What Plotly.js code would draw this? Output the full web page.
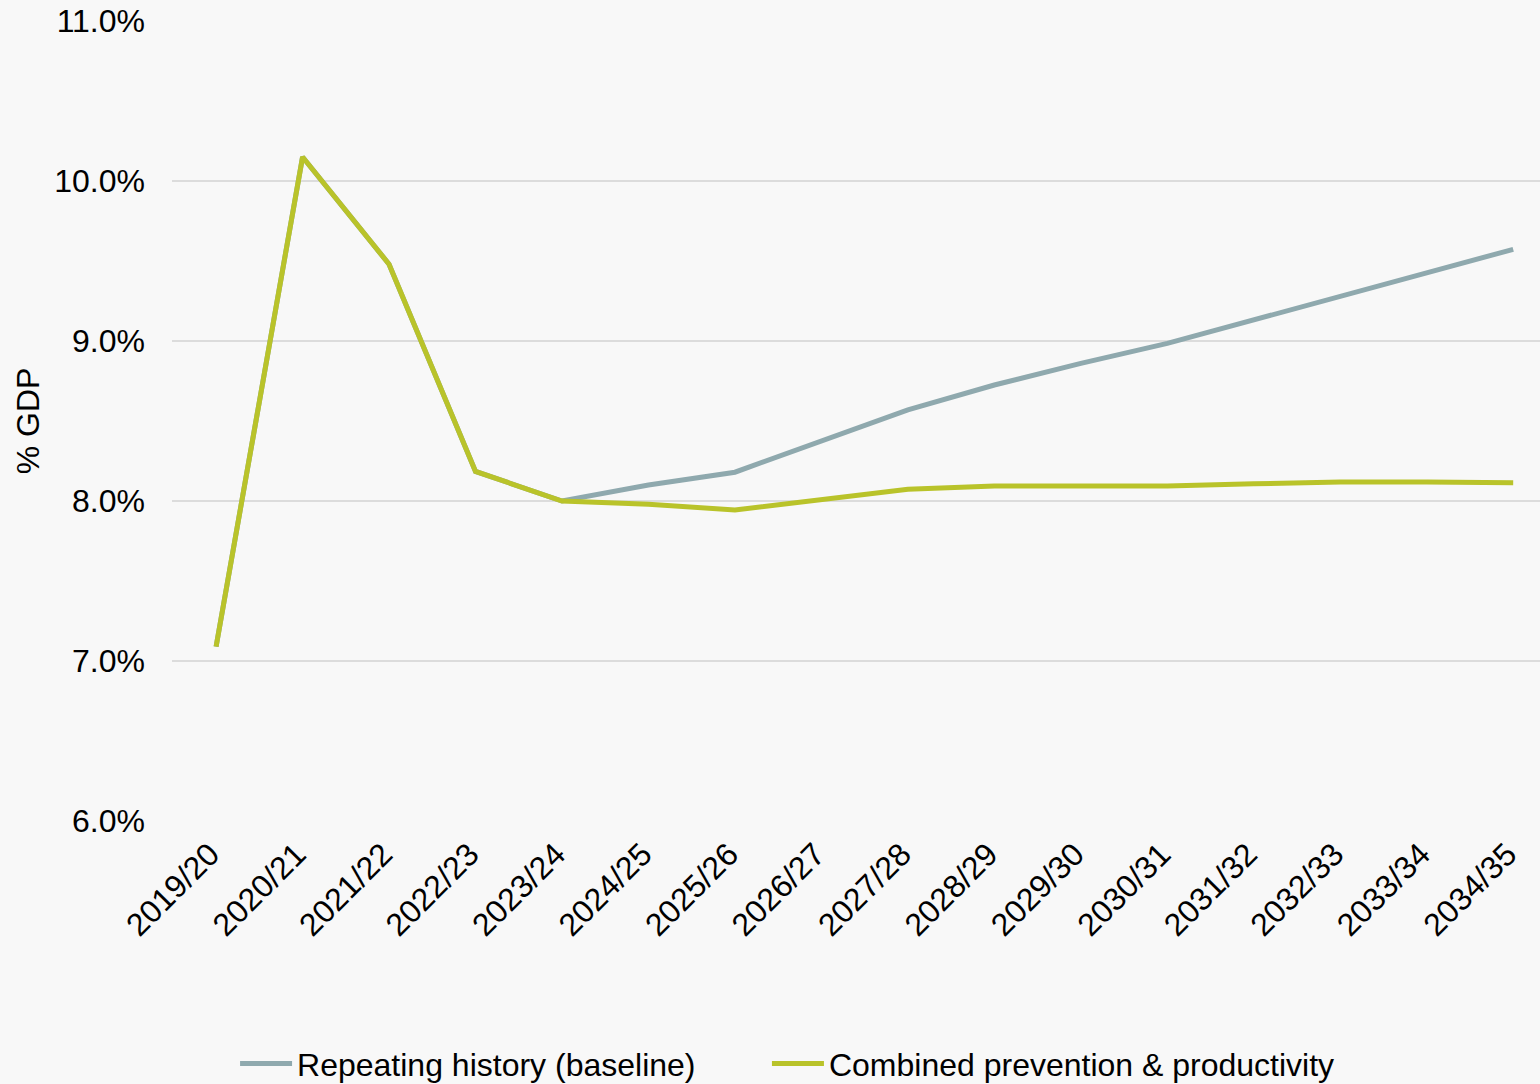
<!DOCTYPE html>
<html>
<head>
<meta charset="utf-8">
<script src="https://cdn.plot.ly/plotly-3.0.1.min.js"></script>
<style>
  html, body { margin: 0; padding: 0; background: #f8f8f8; }
  #chart { width: 1540px; height: 1084px; }
</style>
</head>
<body>
<div id="chart"></div>
<script>
// Fiscal years on the category axis
const years = [
  "2019/20", "2020/21", "2021/22", "2022/23", "2023/24", "2024/25", "2025/26", "2026/27",
  "2027/28", "2028/29", "2029/30", "2030/31", "2031/32", "2032/33", "2033/34", "2034/35"
];

// Spending as % of GDP under each scenario
const baseline = [
  7.09, 10.15, 9.48, 8.185, 8.00, 8.10, 8.18, 8.375,
  8.57, 8.725, 8.86, 8.985, 9.13, 9.276, 9.424, 9.573
];
const combined = [
  7.09, 10.15, 9.48, 8.185, 8.00, 7.98, 7.944, 8.01,
  8.074, 8.094, 8.094, 8.094, 8.108, 8.118, 8.119, 8.114
];

const seriesNames = ["Repeating history (baseline)", "Combined prevention & productivity"];
const yTicks = [6, 7, 8, 9, 10, 11];

const FONT = "Liberation Sans, Arial, sans-serif";
const FS = 32;

const traces = [
  {
    x: years, y: baseline, name: seriesNames[0], type: "scatter", mode: "lines",
    line: { color: "#8fa9ae", width: 5 }, hoverinfo: "skip", legend: "legend"
  },
  {
    x: years, y: combined, name: seriesNames[1], type: "scatter", mode: "lines",
    line: { color: "#b9c32a", width: 5 }, hoverinfo: "skip", legend: "legend2"
  }
];

// Both legend boxes share one look; only the horizontal position differs
function legendBox(xPos) {
  return {
    orientation: "h",
    x: xPos, xanchor: "left",
    y: -0.3035, yanchor: "middle",
    font: { family: FONT, size: FS, color: "#000000" },
    bgcolor: "rgba(0,0,0,0)",
    itemwidth: 52
  };
}

const layout = {
  width: 1540,
  height: 1084,
  paper_bgcolor: "#f8f8f8",
  plot_bgcolor: "#f8f8f8",
  font: { family: FONT, size: FS, color: "#000000" },
  margin: { l: 172, r: 0, t: 21, b: 263, autoexpand: false },
  showlegend: true,
  legend: legendBox(0.0461),
  legend2: legendBox(0.4349),
  xaxis: {
    type: "category",
    range: [-0.51, 15.31],
    tickangle: -45,
    automargin: false,
    showgrid: false,
    zeroline: false,
    showline: false,
    ticks: "",
    ticklabelstandoff: 7,
    ticklabelshift: -6,
    tickfont: { family: FONT, size: FS, color: "#000000" },
    fixedrange: true
  },
  yaxis: {
    range: [6, 11],
    automargin: false,
    tickvals: yTicks,
    ticktext: yTicks.map(v => v.toFixed(1) + "%"),
    showgrid: true,
    gridcolor: "#dcdcdc",
    gridwidth: 2,
    zeroline: false,
    showline: false,
    ticks: "",
    ticklabelstandoff: 26,
    tickfont: { family: FONT, size: FS, color: "#000000" },
    title: { text: "% GDP", font: { family: FONT, size: FS, color: "#000000" }, standoff: 5 },
    fixedrange: true
  }
};

Plotly.newPlot("chart", traces, layout, { displayModeBar: false, staticPlot: true });
</script>
</body>
</html>
